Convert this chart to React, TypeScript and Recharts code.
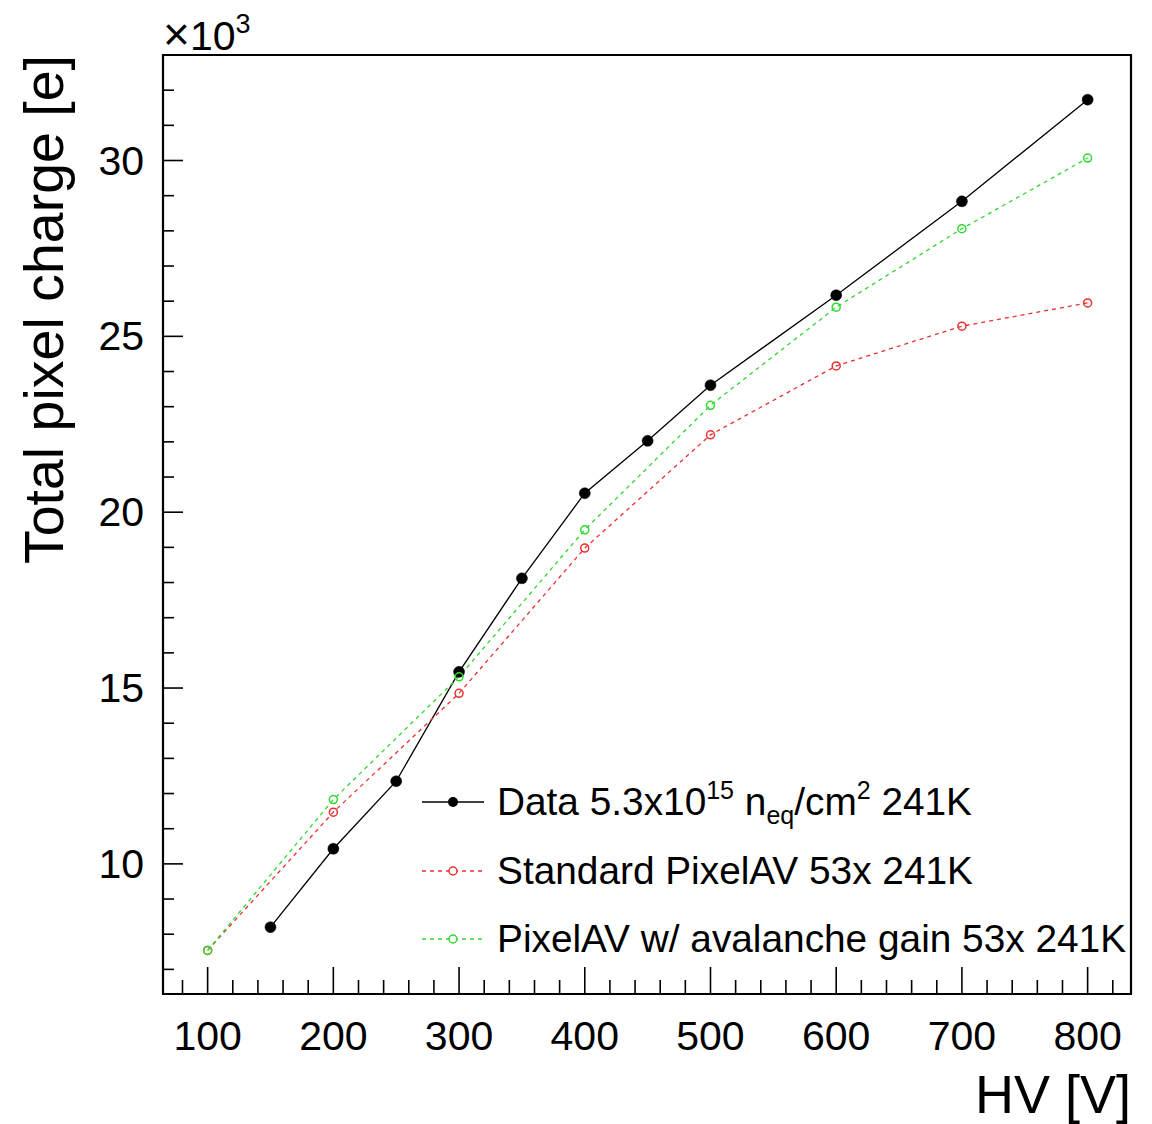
import React from 'react';
import { LineChart, Line, XAxis, YAxis, ReferenceArea, Legend, Label } from 'recharts';

const FONT = '"Liberation Sans", Arial, Helvetica, sans-serif';
const RED = '#e83030';
const GREEN = '#30d830';

// Measured data: HV [V] vs total pixel charge [10^3 e]
const hvData = [150, 200, 250, 300, 350, 400, 450, 500, 600, 700, 800];
const chargeData = [8.2, 10.43, 12.35, 15.46, 18.12, 20.54, 22.03, 23.61, 26.17, 28.84, 31.73];

// Simulations
const hvSim = [100, 200, 300, 400, 500, 600, 700, 800];
const chargeStandard = [7.54, 11.47, 14.85, 18.98, 22.2, 24.16, 25.29, 25.95];
const chargeAvalanche = [7.54, 11.83, 15.32, 19.5, 23.04, 25.83, 28.06, 30.07];

// Axis ticks
const xTicks = [80, 100, 120, 140, 160, 180, 200, 220, 240, 260, 280, 300, 320, 340, 360, 380, 400, 420, 440, 460, 480, 500, 520, 540, 560, 580, 600, 620, 640, 660, 680, 700, 720, 740, 760, 780, 800, 820];
const xMajor = [100, 200, 300, 400, 500, 600, 700, 800];
const yTicks = [7, 8, 9, 10, 11, 12, 13, 14, 15, 16, 17, 18, 19, 20, 21, 22, 23, 24, 25, 26, 27, 28, 29, 30, 31, 32];
const yMajor = [10, 15, 20, 25, 30];

const X_DOMAIN: [number, number] = [64.5, 834.5];
const Y_DOMAIN: [number, number] = [6.3, 33];

const dataSeries = hvData.map((hv, i) => ({ hv, q: chargeData[i] }));
const stdSeries = hvSim.map((hv, i) => ({ hv, q: chargeStandard[i] }));
const avaSeries = hvSim.map((hv, i) => ({ hv, q: chargeAvalanche[i] }));

const XTick = (props: any) => {
  const { x, y, payload } = props;
  const v = payload.value;
  const major = xMajor.includes(v);
  return (
    <g>
      <line x1={x} y1={y} x2={x} y2={y - (major ? 27 : 14)} stroke="#000" strokeWidth={1.6} />
      {major && (
        <text x={x} y={y + 56} textAnchor="middle" fontSize={41} fontFamily={FONT} fill="#000">
          {v}
        </text>
      )}
    </g>
  );
};

const YTick = (props: any) => {
  const { x, y, payload } = props;
  const v = payload.value;
  const major = yMajor.includes(v);
  return (
    <g>
      <line x1={x} y1={y} x2={x + (major ? 20 : 11)} y2={y} stroke="#000" strokeWidth={1.6} />
      {major && (
        <text x={x - 19} y={y + 14} textAnchor="end" fontSize={41} fontFamily={FONT} fill="#000">
          {v}
        </text>
      )}
    </g>
  );
};

const XTitle = (props: any) => {
  const vb = props.viewBox || { x: 155, y: 986, width: 968 };
  return (
    <text x={vb.x + vb.width} y={vb.y + 119} textAnchor="end" fontSize={54} fontFamily={FONT} fill="#000">
      HV [V]
    </text>
  );
};

const YTitle = (props: any) => {
  const vb = props.viewBox || { x: 0, y: 47 };
  const tx = 55;
  const ty = vb.y;
  return (
    <g>
      <text
        x={tx}
        y={ty}
        transform={`rotate(-90 ${tx} ${ty})`}
        textAnchor="end"
        fontSize={55.5}
        fontFamily={FONT}
        fill="#000"
      >
        Total pixel charge [e]
      </text>
      <text x={vb.x + vb.width} y={vb.y - 5} fontSize={41} fontFamily={FONT} fill="#000">
        <tspan fontSize={46}>×</tspan>
        <tspan>10</tspan>
        <tspan fontSize={27} dy={-17}>3</tspan>
      </text>
    </g>
  );
};

const LegendContent = () => {
  const rows = [34, 103, 171];
  const tx = 89;
  const fs = 38.8;
  const fsSmall = 25;
  return (
    <svg width={740} height={210} style={{ overflow: 'visible' }}>
      {/* Data */}
      <line x1={14} y1={rows[0]} x2={76} y2={rows[0]} stroke="#000" strokeWidth={1.5} />
      <circle cx={45} cy={rows[0]} r={5} fill="#000" />
      <text x={tx} y={rows[0] + 13} fontSize={fs} fontFamily={FONT} fill="#000" style={{ whiteSpace: 'pre' }}>
        <tspan>Data 5.3x10</tspan>
        <tspan fontSize={fsSmall} dy={-16}>15</tspan>
        <tspan fontSize={fs} dy={16}> n</tspan>
        <tspan fontSize={fsSmall} dy={9}>eq</tspan>
        <tspan fontSize={fs} dy={-9}>/cm</tspan>
        <tspan fontSize={fsSmall} dy={-16}>2</tspan>
        <tspan fontSize={fs} dy={16}> 241K</tspan>
      </text>
      {/* Standard */}
      <line x1={14} y1={rows[1]} x2={76} y2={rows[1]} stroke={RED} strokeWidth={1.3} strokeDasharray="4 4" />
      <circle cx={45} cy={rows[1]} r={4} fill="#fff" stroke={RED} strokeWidth={1.5} />
      <text x={tx} y={rows[1] + 13} fontSize={fs} fontFamily={FONT} fill="#000">
        Standard PixelAV 53x 241K
      </text>
      {/* Avalanche */}
      <line x1={14} y1={rows[2]} x2={76} y2={rows[2]} stroke={GREEN} strokeWidth={1.3} strokeDasharray="4 4" />
      <circle cx={45} cy={rows[2]} r={4} fill="#fff" stroke={GREEN} strokeWidth={1.5} />
      <text x={tx} y={rows[2] + 13} fontSize={fs} fontFamily={FONT} fill="#000">
        PixelAV w/ avalanche gain 53x 241K
      </text>
    </svg>
  );
};

export default function App() {
  return (
    <div style={{ width: 1144, height: 1116, background: '#fff' }}>
      <LineChart width={1144} height={1116} margin={{ top: 47, right: 21, bottom: 0, left: 0 }}>
        <XAxis
          dataKey="hv"
          type="number"
          domain={X_DOMAIN}
          ticks={xTicks}
          interval={0}
          allowDataOverflow
          height={130}
          axisLine={false}
          tickLine={false}
          tickSize={0}
          tickMargin={0}
          tick={<XTick />}
        >
          <Label content={<XTitle />} />
        </XAxis>
        <YAxis
          type="number"
          domain={Y_DOMAIN}
          ticks={yTicks}
          interval={0}
          allowDataOverflow
          width={155}
          axisLine={false}
          tickLine={false}
          tickSize={0}
          tickMargin={0}
          tick={<YTick />}
        >
          <Label content={<YTitle />} />
        </YAxis>
        <ReferenceArea
          x1={X_DOMAIN[0]}
          x2={X_DOMAIN[1]}
          y1={Y_DOMAIN[0]}
          y2={Y_DOMAIN[1]}
          fill="none"
          fillOpacity={0}
          stroke="#000"
          strokeWidth={2.2}
          ifOverflow="visible"
        />
        <Line
          data={dataSeries}
          dataKey="q"
          name="Data"
          stroke="#000"
          strokeWidth={1.3}
          dot={{ r: 5.5, fill: '#000', stroke: '#000', strokeWidth: 0.5 }}
          activeDot={false}
          isAnimationActive={false}
        />
        <Line
          data={stdSeries}
          dataKey="q"
          name="Standard"
          stroke={RED}
          strokeWidth={1.3}
          strokeDasharray="4 4"
          dot={{ r: 4, fill: 'none', stroke: RED, strokeWidth: 1.5, strokeDasharray: '' }}
          activeDot={false}
          isAnimationActive={false}
        />
        <Line
          data={avaSeries}
          dataKey="q"
          name="Avalanche"
          stroke={GREEN}
          strokeWidth={1.3}
          strokeDasharray="4 4"
          dot={{ r: 4, fill: 'none', stroke: GREEN, strokeWidth: 1.5, strokeDasharray: '' }}
          activeDot={false}
          isAnimationActive={false}
        />
        <Legend
          layout="horizontal"
          verticalAlign="middle"
          align="center"
          content={<LegendContent />}
          wrapperStyle={{ position: 'absolute', left: 400, top: 760, width: 740, height: 210 }}
        />
      </LineChart>
    </div>
  );
}
